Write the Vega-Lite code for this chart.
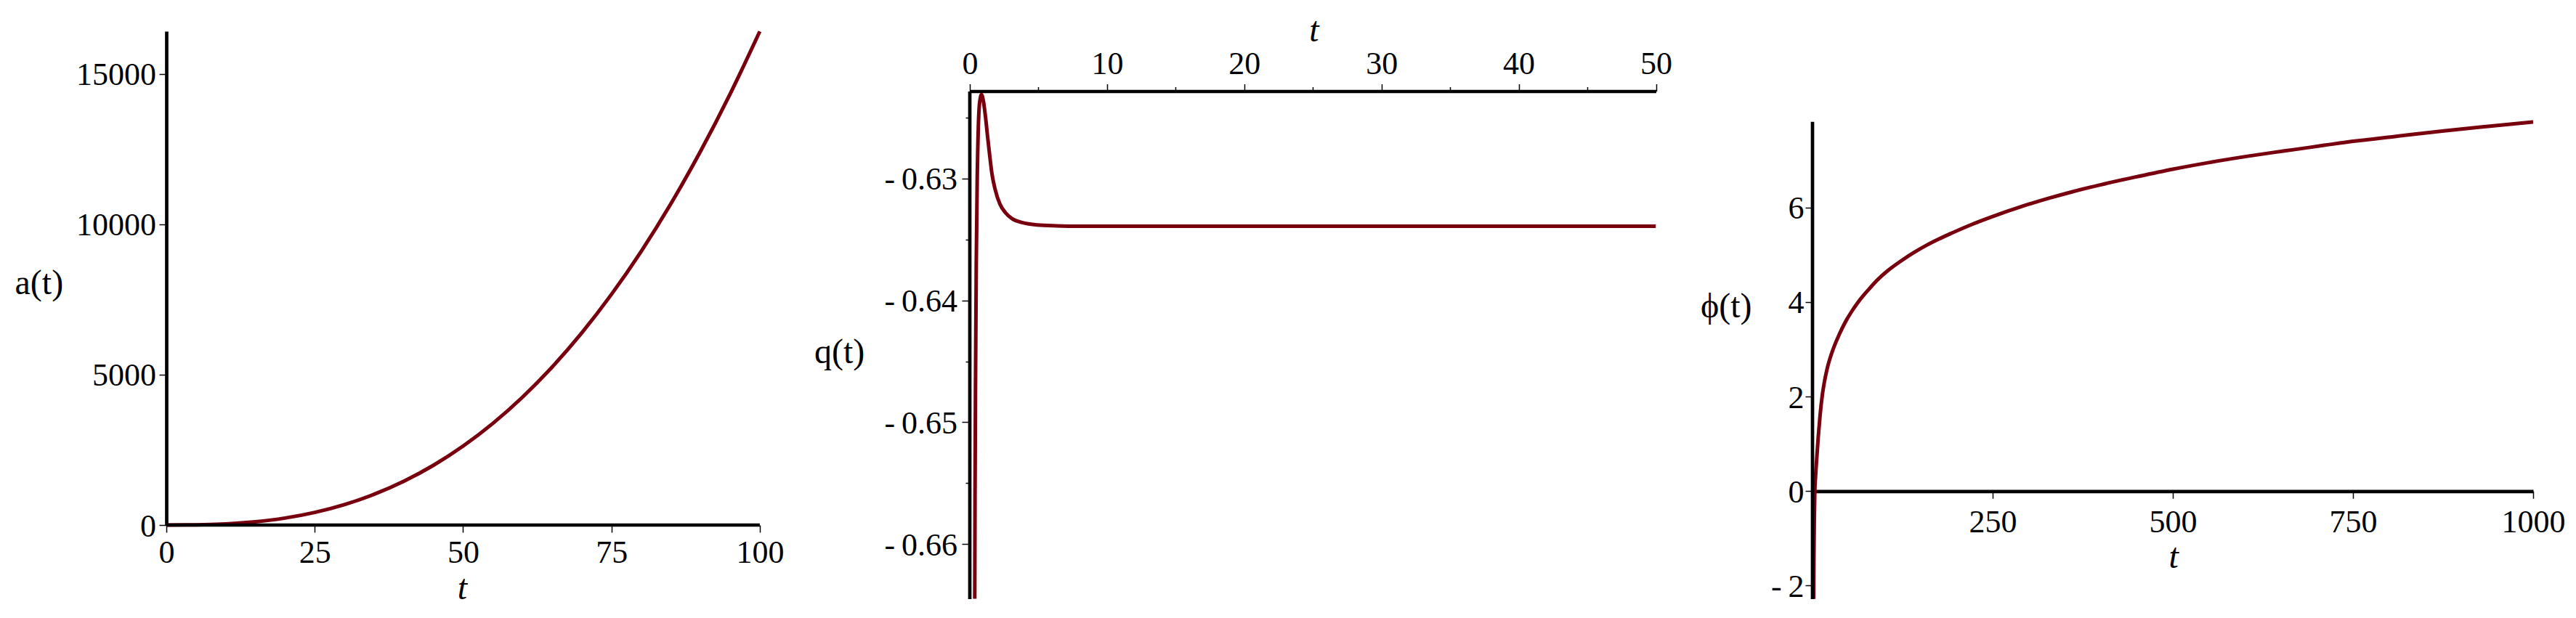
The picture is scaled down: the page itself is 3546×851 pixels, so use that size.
{
  "$schema": "https://vega.github.io/schema/vega-lite/v6.json",
  "padding": {"left": 20, "top": 18, "right": 5, "bottom": 5},
  "background": "white",
  "spacing": 215,
  "bounds": "flush",
  "config": {
    "view": {"stroke": null},
    "axis": {
      "grid": false,
      "labelFont": "Liberation Serif",
      "labelFontSize": 44,
      "labelColor": "black",
      "titleFont": "Liberation Serif",
      "titleFontSize": 48,
      "titleFontWeight": "normal",
      "titleColor": "black",
      "domainColor": "black",
      "domainWidth": 4.7,
      "tickColor": "black",
      "tickWidth": 1.5,
      "labelFlush": false,
      "labelOverlap": false,
      "labelBound": false,
      "titleAngle": 0,
      "titlePadding": 0
    }
  },
  "datasets": {
    "a": [
      {"t": 0, "a": 0}, {"t": 5, "a": 5.9}, {"t": 10, "a": 37.2}, {"t": 15, "a": 108.6},
      {"t": 20, "a": 232.7}, {"t": 25, "a": 419.5}, {"t": 30, "a": 679.5}, {"t": 35, "a": 1022},
      {"t": 40, "a": 1455}, {"t": 45, "a": 1987}, {"t": 50, "a": 2625}, {"t": 55, "a": 3378},
      {"t": 60, "a": 4252}, {"t": 65, "a": 5254}, {"t": 70, "a": 6392}, {"t": 75, "a": 7672},
      {"t": 80, "a": 9100}, {"t": 85, "a": 10683}, {"t": 90, "a": 12426}, {"t": 95, "a": 14337},
      {"t": 100, "a": 16420}
    ],
    "q": [
      {"t": 0.36, "q": -0.6645}, {"t": 0.38, "q": -0.656}, {"t": 0.42, "q": -0.646},
      {"t": 0.47, "q": -0.637}, {"t": 0.54, "q": -0.630}, {"t": 0.62, "q": -0.6258},
      {"t": 0.71, "q": -0.6238}, {"t": 0.85, "q": -0.6231}, {"t": 1.0, "q": -0.6237},
      {"t": 1.15, "q": -0.6250}, {"t": 1.3, "q": -0.6266}, {"t": 1.45, "q": -0.6281},
      {"t": 1.6, "q": -0.6295}, {"t": 1.85, "q": -0.6309}, {"t": 2.2, "q": -0.6321},
      {"t": 2.6, "q": -0.6328}, {"t": 3.1, "q": -0.6333}, {"t": 3.8, "q": -0.6336},
      {"t": 4.9, "q": -0.6338}, {"t": 6.3, "q": -0.63387}, {"t": 8, "q": -0.6339},
      {"t": 10, "q": -0.6339}, {"t": 20, "q": -0.6339}, {"t": 30, "q": -0.6339},
      {"t": 40, "q": -0.6339}, {"t": 50, "q": -0.6339}
    ],
    "phi": [
      {"t": 1.6, "phi": -2.28}, {"t": 2.0, "phi": -1.3}, {"t": 2.5, "phi": -0.6},
      {"t": 3.2, "phi": 0.0}, {"t": 4.2, "phi": 0.3}, {"t": 5.7, "phi": 0.65},
      {"t": 8.0, "phi": 1.15}, {"t": 10.5, "phi": 1.6}, {"t": 13.6, "phi": 2.03},
      {"t": 17, "phi": 2.35}, {"t": 20.5, "phi": 2.6}, {"t": 27.4, "phi": 2.95},
      {"t": 37.6, "phi": 3.33}, {"t": 45, "phi": 3.56}, {"t": 54.8, "phi": 3.81},
      {"t": 63, "phi": 3.99}, {"t": 71.9, "phi": 4.16}, {"t": 80, "phi": 4.30},
      {"t": 89, "phi": 4.45}, {"t": 105, "phi": 4.67}, {"t": 123, "phi": 4.87},
      {"t": 140, "phi": 5.04}, {"t": 157, "phi": 5.19}, {"t": 175, "phi": 5.33},
      {"t": 192, "phi": 5.45}, {"t": 220, "phi": 5.635}, {"t": 250, "phi": 5.81},
      {"t": 290, "phi": 6.02}, {"t": 329, "phi": 6.20}, {"t": 360, "phi": 6.33},
      {"t": 397, "phi": 6.47}, {"t": 450, "phi": 6.65}, {"t": 500, "phi": 6.81},
      {"t": 550, "phi": 6.95}, {"t": 602, "phi": 7.08}, {"t": 640, "phi": 7.165},
      {"t": 671, "phi": 7.23}, {"t": 710, "phi": 7.315}, {"t": 750, "phi": 7.40},
      {"t": 810, "phi": 7.505}, {"t": 876, "phi": 7.62}, {"t": 940, "phi": 7.72},
      {"t": 1000, "phi": 7.81}
    ]
  },
  "hconcat": [
    {
      "width": 890.5,
      "height": 680,
      "resolve": {"axis": {"x": "independent", "y": "independent"}},
      "layer": [
        {
          "data": {"name": "a"},
          "mark": {"type": "line", "color": "#78000e", "strokeWidth": 5, "interpolate": "monotone"},
          "encoding": {
            "x": {
              "field": "t", "type": "quantitative",
              "scale": {"domain": [0, 109.01], "nice": false, "zero": false},
              "axis": {
                "orient": "bottom", "values": [0, 25, 50, 75, 100], "format": "d", "domain": false,
                "tickSize": 10, "labelPadding": 41.7, "labelBaseline": "alphabetic",
                "title": "t", "titleFontStyle": "italic", "titleX": 407, "titleY": 101,
                "titleAlign": "center", "titleBaseline": "alphabetic"
              }
            },
            "y": {
              "field": "a", "type": "quantitative",
              "scale": {"domain": [0, 16425], "nice": false, "zero": false},
              "axis": {
                "orient": "left", "values": [0, 5000, 10000, 15000], "format": "d",
                "tickSize": 10, "labelPadding": 4.5, "labelBaseline": "alphabetic", "labelOffset": 15,
                "labelAlign": "right",
                "title": "a(t)", "titleX": -209, "titleY": 361.5, "titleAlign": "left", "titleBaseline": "alphabetic"
              }
            }
          }
        },
        {
          "data": {"values": [{}]},
          "mark": {"type": "rule", "color": "black", "strokeWidth": 4.7},
          "encoding": {
            "x": {"datum": 0, "type": "quantitative", "axis": null},
            "x2": {"datum": 100},
            "y": {"datum": 0, "type": "quantitative", "axis": null}
          }
        }
      ]
    },
    {
      "width": 944.5,
      "height": 782,
      "resolve": {"axis": {"x": "independent", "y": "independent"}},
      "layer": [
        {
          "data": {"name": "q"},
          "mark": {"type": "line", "color": "#78000e", "strokeWidth": 5, "interpolate": "monotone", "clip": true},
          "encoding": {
            "x": {
              "field": "t", "type": "quantitative",
              "scale": {"domain": [0, 50], "nice": false, "zero": false},
              "axis": {
                "orient": "top", "offset": -82.5, "values": [0, 10, 20, 30, 40, 50], "format": "d",
                "tickSize": 10, "labelPadding": 14.2, "labelBaseline": "alphabetic",
                "title": "t", "titleFontStyle": "italic", "titleX": 473.5, "titleY": -69.5,
                "titleAlign": "center", "titleBaseline": "alphabetic"
              }
            },
            "y": {
              "field": "q", "type": "quantitative",
              "scale": {"domain": [-0.664532, -0.617893], "nice": false, "zero": false},
              "axis": {
                "orient": "left", "values": [-0.66, -0.65, -0.64, -0.63], "domain": false,
                "labelExpr": "'-\u2009' + format(-datum.value, '.2f')",
                "tickSize": 11, "labelPadding": 6.5, "labelBaseline": "alphabetic", "labelOffset": 15,
                "labelAlign": "right",
                "title": "q(t)", "titleX": -214.5, "titleY": 456, "titleAlign": "left", "titleBaseline": "alphabetic"
              }
            }
          }
        },
        {
          "data": {"values": [{}]},
          "mark": {"type": "rule", "color": "black", "strokeWidth": 4.7},
          "encoding": {
            "x": {
              "datum": 0, "type": "quantitative",
              "axis": {
                "orient": "top", "offset": -82.5, "values": [5, 15, 25, 35, 45], "domain": false,
                "labels": false, "tickSize": 6, "title": null
              }
            },
            "y": {
              "datum": -0.622843, "type": "quantitative",
              "axis": {
                "orient": "left", "values": [-0.655, -0.645, -0.635, -0.625], "domain": false,
                "labels": false, "tickSize": 6, "title": null
              }
            },
            "y2": {"datum": -0.664532}
          }
        }
      ]
    },
    {
      "width": 992,
      "height": 782,
      "resolve": {"axis": {"x": "independent", "y": "independent"}},
      "layer": [
        {
          "data": {"name": "phi"},
          "mark": {"type": "line", "color": "#78000e", "strokeWidth": 5, "interpolate": "monotone", "clip": true},
          "encoding": {
            "x": {
              "field": "t", "type": "quantitative",
              "scale": {"domain": [0, 1000], "nice": false, "zero": false},
              "axis": {
                "orient": "bottom", "offset": -148.7, "values": [250, 500, 750, 1000], "format": "d",
                "tickSize": 10, "labelPadding": 45.7, "labelBaseline": "alphabetic",
                "title": "t", "titleFontStyle": "italic", "titleX": 496.7, "titleY": 104.7,
                "titleAlign": "center", "titleBaseline": "alphabetic"
              }
            },
            "y": {
              "field": "phi", "type": "quantitative",
              "scale": {"domain": [-2.2842, 9.728], "nice": false, "zero": false},
              "axis": {
                "orient": "left", "values": [-2, 0, 2, 4, 6], "domain": false,
                "labelExpr": "datum.value < 0 ? '-\u2009' + format(-datum.value, 'd') : format(datum.value, 'd')",
                "tickSize": 10, "labelPadding": 2, "labelBaseline": "alphabetic", "labelOffset": 15,
                "labelAlign": "right",
                "title": "ϕ(t)", "titleX": -154.6, "titleY": 393, "titleAlign": "left", "titleBaseline": "alphabetic"
              }
            }
          }
        },
        {
          "data": {"values": [{}]},
          "mark": {"type": "rule", "color": "black", "strokeWidth": 4.7},
          "encoding": {
            "x": {"datum": 0, "type": "quantitative", "axis": null},
            "y": {"datum": 7.812, "type": "quantitative", "axis": null},
            "y2": {"datum": -2.2842}
          }
        }
      ]
    }
  ]
}
